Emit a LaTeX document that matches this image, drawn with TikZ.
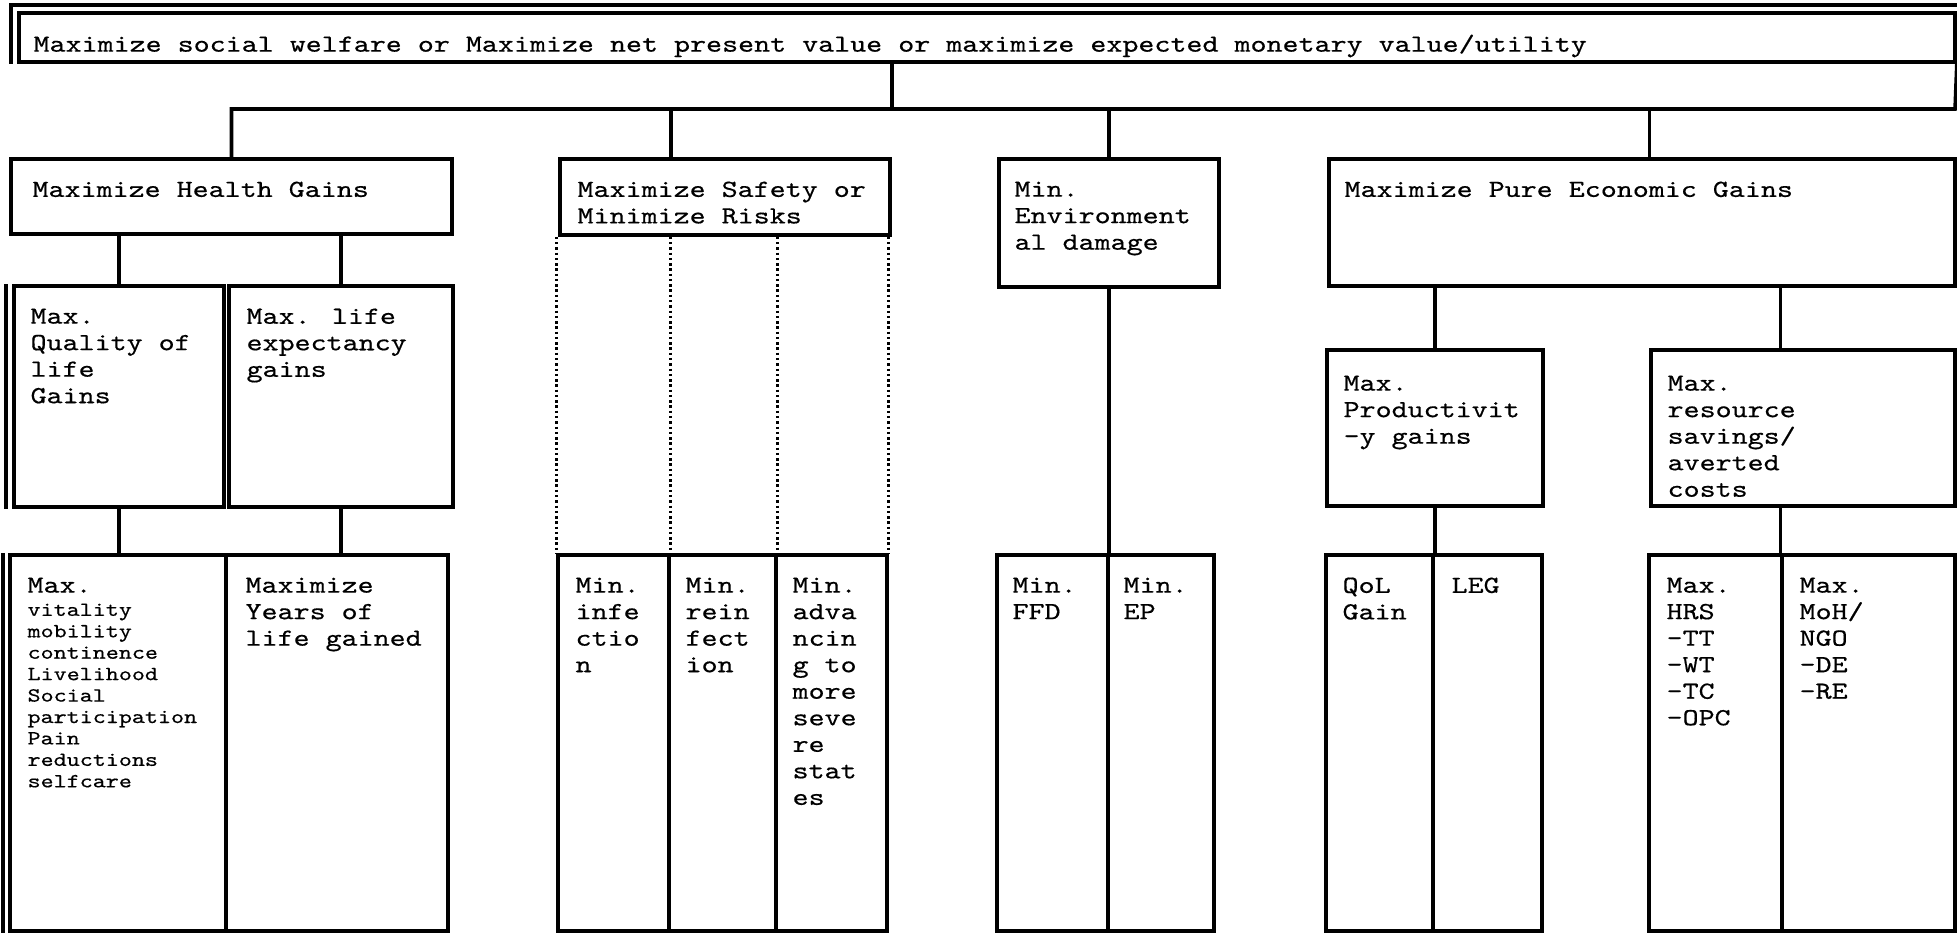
\documentclass[tikz,border=0pt]{standalone}
\usepackage{fontspec}
\newfontfamily\typefont[FakeStretch=1.24,FakeBold=0.5]{lmmono10-regular.otf}
\usetikzlibrary{fit}

\tikzset{
  goal/.style={draw, line width=2pt, inner sep=0pt},
  link/.style={line width=2pt},
  dotlink/.style={line width=1.7pt, dash pattern=on 1.4pt off 1.6pt},
  lbl/.style={anchor=north west, inner sep=0pt, align=left,
    font=\typefont\fontsize{14}{15.1}\selectfont},
  sml/.style={lbl, font=\typefont\fontsize{11.4}{12.2}\selectfont}
}

\begin{document}
\begin{tikzpicture}[x=0.02cm, y=-0.02cm]
  \useasboundingbox (0,0) rectangle (1957,935);
  \node[goal, fit={(19,13) (1955,62)}] (top) {};
  \node[lbl] (top-t) at ([shift={(16,23)}]top.north west)
    {Maximize social welfare or Maximize net present value or maximize expected monetary value/utility};
  \draw[link] ([shift={(-6,0)}]top.south west) |- ([shift={(0,-6)}]top.north east);

  % second level
  \node[goal, fit={(11,159) (452,234)}] (hg) {};
  \node[goal, fit={(560,159) (890,235)}] (sf) {};
  \node[goal, fit={(999,159) (1219,287)}] (en) {};
  \node[goal, fit={(1329,159) (1955,286)}] (ec) {};
  \node[lbl] (hg-t) at ([shift={(23,24)}]hg.north west) {Maximize Health Gains};
  \node[lbl] (sf-t) at ([shift={(19,24)}]sf.north west) {Maximize Safety or\\Minimize Risks};
  \node[lbl] (en-t) at ([shift={(17,24)}]en.north west) {Min.\\Environment\\al damage};
  \node[lbl] (ec-t) at ([shift={(17,24)}]ec.north west) {Maximize Pure Economic Gains};

  % third level
  \node[goal, fit={(14,286) (224,507)}] (ql) {};
  \node[goal, fit={(229,286) (453,507)}] (le) {};
  \node[goal, fit={(1327,350) (1543,506)}] (pg) {};
  \node[goal, fit={(1651,350) (1955,506)}] (rs) {};
  \draw[link] ([shift={(-6,0)}]ql.north west) -- ([shift={(-6,0)}]ql.south west);
  \node[lbl] (ql-t) at ([shift={(18,24)}]ql.north west) {Max.\\Quality of\\life\\Gains};
  \node[lbl] (le-t) at ([shift={(19,24)}]le.north west) {Max. life\\expectancy\\gains};
  \node[lbl] (pg-t) at ([shift={(18,27)}]pg.north west) {Max.\\Productivit\\-y gains};
  \node[lbl] (rs-t) at ([shift={(18,27)}]rs.north west) {Max.\\resource\\savings/\\averted\\costs};

  % bottom level
  \node[goal, fit={(10,555) (226,931)}] (hb1) {};
  \node[goal, fit={(226,555) (448,931)}] (hb2) {};
  \node[goal, fit={(558,555) (669,931)}] (sb1) {};
  \node[goal, fit={(669,555) (776,931)}] (sb2) {};
  \node[goal, fit={(776,555) (887,931)}] (sb3) {};
  \node[goal, fit={(997,555) (1108,931)}] (eb1) {};
  \node[goal, fit={(1108,555) (1214,931)}] (eb2) {};
  \node[goal, fit={(1326,555) (1433,931)}] (cb1) {};
  \node[goal, fit={(1433,555) (1542,931)}] (cb2) {};
  \node[goal, fit={(1649,555) (1782,931)}] (cb3) {};
  \node[goal, fit={(1782,555) (1955,931)}] (cb4) {};
  \draw[link] ([shift={(-5,0)}]hb1.north west) -- ([shift={(-5,0)}]hb1.south west);
  \node[lbl] (hb1-t) at ([shift={(19,24)}]hb1.north west) {Max.};
  \node[sml] (hb1-s) at ([shift={(19,50)}]hb1.north west)
    {vitality\\mobility\\continence\\Livelihood\\Social\\participation\\Pain\\reductions\\selfcare};
  \node[lbl] (hb2-t) at ([shift={(21,24)}]hb2.north west) {Maximize\\Years of\\life gained};
  \node[lbl] (sb1-t) at ([shift={(19,24)}]sb1.north west) {Min.\\infe\\ctio\\n};
  \node[lbl] (sb2-t) at ([shift={(18,24)}]sb2.north west) {Min.\\rein\\fect\\ion};
  \node[lbl] (sb3-t) at ([shift={(18,24)}]sb3.north west) {Min.\\adva\\ncin\\g to\\more\\seve\\re\\stat\\es};
  \node[lbl] (eb1-t) at ([shift={(17,24)}]eb1.north west) {Min.\\FFD};
  \node[lbl] (eb2-t) at ([shift={(17,24)}]eb2.north west) {Min.\\EP};
  \node[lbl] (cb1-t) at ([shift={(18,24)}]cb1.north west) {QoL\\Gain};
  \node[lbl] (cb2-t) at ([shift={(20,24)}]cb2.north west) {LEG};
  \node[lbl] (cb3-t) at ([shift={(19,24)}]cb3.north west) {Max.\\HRS\\-TT\\-WT\\-TC\\-OPC};
  \node[lbl] (cb4-t) at ([shift={(19,24)}]cb4.north west) {Max.\\MoH/\\NGO\\-DE\\-RE};

  % connectors
  \coordinate (busR) at (1955,109);
  \draw[link] (top.south -| sf.east) -- (sf.east |- busR);
  \draw[link] (hg.north) |- (busR) -- (top.south east);
  \draw[link] (sb1.north east |- busR) -- (sb1.north east |- sf.north);
  \draw[link] (en.north |- busR) -- (en.north);
  \draw[link] (rs.north west |- busR) -- (rs.north west |- ec.north);
  \draw[link] (ql.north |- hg.south) -- (ql.north);
  \draw[link] (le.north |- hg.south) -- (le.north);
  \draw[link] (ql.south) -- (ql.south |- hb1.north);
  \draw[link] (le.south) -- (le.south |- hb2.north);
  \foreach \c in {sb1.north west, sb1.north east, sb2.north east, sb3.north east}
    \draw[dotlink] (\c |- sf.south) -- (\c);
  \draw[link] (en.south) -- (en.south |- eb1.north);
  \draw[link] (pg.north |- ec.south) -- (pg.north);
  \draw[link] (cb4.north west |- ec.south) -- (cb4.north west |- rs.north);
  \draw[link] (cb1.north east |- pg.south) -- (cb1.north east);
  \draw[link] (cb4.north west |- rs.south) -- (cb4.north west);
\end{tikzpicture}
\end{document}
